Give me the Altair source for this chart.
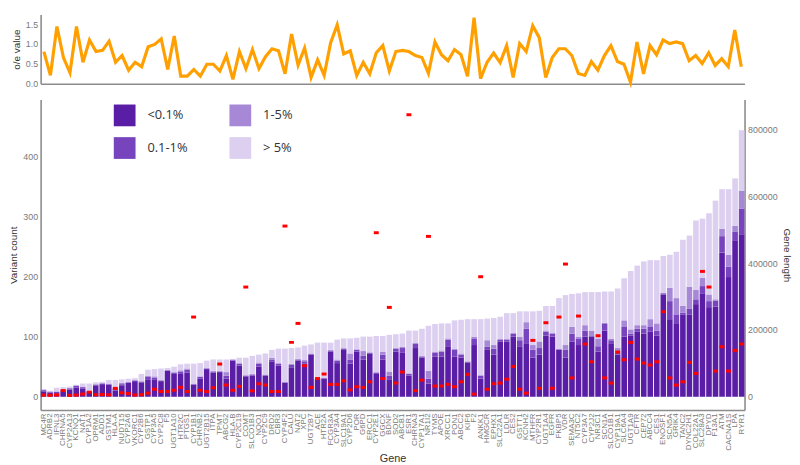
import altair as alt
import pandas as pd

genes = [
    "MC4R", "ADRB2", "IFNL3", "CHRNA5", "CYP2A13", "KCNQ1", "NAT1", "CYP1A2", "OPRM1", "ADD1",
    "GSTM1", "HLA-A", "NUDT15", "CYP2A6", "VKORC1", "CYP2B6", "GSTP1", "CYP3A5", "CYP2C8", "F5",
    "UGT1A10", "HTR2C", "PTGS1", "CYP1B1", "CHRNB2", "UGT2B15", "ITPA", "TPMT", "ABCG2", "HLA-B",
    "CYP2C19", "COMT", "SLCO1B3", "NQO1", "CYP2C9", "DRD2", "CBR3", "CYP4F2", "CALU", "NAT2",
    "XPC", "UGT2B7", "ACE", "HTR2A", "FCGR3A", "CYP3A4", "SLC19A1", "CYP2D6", "POR", "G6PD",
    "ERCC1", "CYP2E1", "GGCX", "BDNF", "SOD2", "ABCB1", "ESR1", "CHRNA3", "CYP17A1", "NR1I2",
    "TYMS", "APOE", "XRCC1", "PON1", "ABCC2", "KIF6", "F2", "ANKK1", "HMGCR", "EPHX1",
    "SLC22A1", "LDLR", "CES2", "GSTT1", "KCNH2", "MTHFR", "CYP2R1", "UGT1A4", "EGFR", "FKBP5",
    "VDR", "SEMA3C", "NT5C2", "CYP3A7", "CYP2J2", "NR3C1", "SCN1A", "SLCO1B1", "CYP19A1", "SLC6A4",
    "UGT1A9", "CFTR", "CEP72", "ABCC4", "CES1", "ENOSF1", "SCN5A", "GRIK4", "TANC2", "DYNC2H1",
    "COL22A1", "SLC28A3", "DPYD", "F13A1", "ATM", "CACNA1S", "LPA", "RYR1",
]

oe_value = [
    0.81, 0.21, 1.44, 0.66, 0.28, 1.44, 0.54, 1.10, 0.81, 0.84,
    1.07, 0.54, 0.71, 0.34, 0.54, 0.43, 0.93, 0.99, 1.13, 0.36,
    1.20, 0.19, 0.19, 0.36, 0.19, 0.49, 0.49, 0.32, 0.71, 0.11,
    0.81, 0.38, 0.86, 0.38, 0.68, 0.88, 0.83, 0.25, 1.25, 0.47,
    0.90, 0.16, 0.60, 0.21, 1.03, 1.48, 0.75, 0.83, 0.21, 0.54,
    0.25, 0.78, 0.96, 0.32, 0.81,
    0.84, 0.81, 0.71, 0.66, 0.26, 1.05, 0.73, 0.58, 0.86, 0.73,
    0.19, 1.66, 0.13, 0.54, 0.77, 0.53, 0.96, 0.16, 1.01, 0.81,
    1.46, 1.16, 0.16, 0.66, 0.88, 0.88, 0.71, 0.26, 0.21, 0.56,
    0.34, 0.71, 0.96, 0.56, 0.49, 0.04, 1.05, 0.25, 0.96, 0.73,
    1.10, 1.01, 1.05, 1.01, 0.58, 0.71, 0.51, 0.78, 0.46, 0.63,
    0.43, 1.35, 0.43,
]

total_count = [
    12, 10, 15, 16, 17, 20, 22, 22, 24, 25,
    28, 28, 29, 30, 31, 38, 45, 46, 47, 48,
    50, 54, 55, 55, 56, 60, 62, 62, 62, 62,
    65, 65, 68, 70, 72, 78, 80, 80, 81, 82,
    85, 87, 90, 90, 90, 95, 97, 97, 98, 100,
    100, 101, 101, 103, 104,
    105, 110, 110, 113, 118, 121, 122, 122, 127, 128,
    129, 129, 129, 130, 131, 133, 139, 139, 142, 142,
    142, 143, 151, 151, 164, 169, 171, 172, 174, 174,
    174, 175, 175, 180, 197, 209, 218, 225, 227, 227,
    234, 236, 241, 261, 268, 293, 296, 305, 326, 345,
    345, 363, 443,
]

count_lt01 = [
    9, 7, 6, 9, 12, 15, 14, 8, 19, 21,
    20, 10, 18, 23, 26, 24, 28, 29, 26, 43,
    38, 38, 40, 20, 30, 46, 40, 41, 30, 60,
    52, 34, 35, 50, 35, 58, 52, 23, 48, 60,
    55, 70, 28, 30, 75, 56, 78, 55, 75, 62,
    72, 38, 62, 28, 75,
    73, 35, 81, 65, 22, 67, 67, 84, 67, 65,
    57, 86, 30, 78, 70, 92, 92, 100, 84, 89,
    65, 70, 102, 100, 78, 65, 92, 86, 100, 100,
    75, 110, 89, 70, 100, 102, 108, 105, 108, 102,
    170, 129, 121, 137, 137, 154, 172, 149, 150, 240,
    199, 260, 270,
]

count_01_1 = [
    2, 1, 2, 2, 2, 3, 2, 1, 1, 1,
    1, 3, 3, 1, 1, 1, 5, 3, 1, 1,
    2, 4, 5, 1, 3, 1, 2, 1, 5, 1,
    3, 1, 2, 5, 1, 4, 3, 1, 5, 2,
    4, 1, 2, 1, 2, 4, 2, 7, 3, 6,
    1, 2, 8, 7, 5,
    8, 3, 7, 2, 8, 6, 8, 11, 11, 5,
    1, 10, 5, 5, 10, 3, 3, 5, 10, 24,
    13, 11, 6, 5, 1, 13, 13, 11, 10, 2,
    9, 11, 5, 3, 16, 3, 5, 8, 8, 8,
    2, 30, 16, 3, 9, 8, 12, 10, 10, 27,
    17, 14, 43,
]

count_1_5 = [
    1, 1, 1, 1, 1, 1, 1, 1, 1, 1,
    1, 2, 2, 1, 1, 1, 2, 2, 1, 1,
    1, 2, 2, 1, 1, 1, 1, 1, 6, 1,
    1, 1, 1, 2, 1, 3, 1, 1, 2, 1,
    2, 1, 1, 1, 1, 2, 1, 10, 1, 8,
    1, 1, 5, 7, 1,
    2, 1, 2, 1, 13, 2, 2, 2, 2, 2,
    1, 4, 1, 11, 6, 1, 1, 1, 6, 11,
    8, 11, 2, 1, 1, 8, 11, 3, 9, 8,
    13, 2, 2, 8, 11, 7, 6, 6, 13, 12,
    1, 22, 27, 11, 37, 16, 14, 11, 2, 12,
    20, 10, 29,
]

gene_length = [
    4000, 3500, 4500, 17500, 3000, 4000, 7000, 12600, 5000, 5500,
    4800, 24000, 10700, 8700, 4200, 5200, 9700, 21400, 14600, 14600,
    18500, 27200, 14600, 238000, 18500, 14600, 26000, 97000, 34000, 18500,
    30000, 328000, 16500, 38000, 34000, 14600, 14600, 511000, 162000, 219000,
    92000, 27000, 53500, 67000, 36000, 36000, 46700, 19500, 29000, 27000,
    43800, 491000, 53500, 267000, 40000,
    73000, 845000, 17500, 48600, 480000, 31000, 31000, 36000, 29000, 43800,
    66000, 6800, 359000, 21400, 38000, 40000, 51600, 89500, 21400, 9700,
    168000, 24300, 221000, 24300, 238000, 397000, 55500, 241000, 157000, 104000,
    182000, 55500, 40000, 133000, 110000, 162000, 112000, 100000, 94000, 104000,
    254000, 55500, 34000, 43800, 102000, 69000, 375000, 328000, 76000, 149000,
    76000, 138000, 157000,
]

categories = ["<0.1%", "0.1-1%", "1-5%", "> 5%"]
cat_colors = ["#5a1ea6", "#7744bd", "#a688d6", "#dccff0"]

rows = []
for i, g in enumerate(genes):
    parts = [count_lt01[i], count_01_1[i], count_1_5[i]]
    gt5 = max(total_count[i] - sum(parts), 0)
    for k, (cat, v) in enumerate(zip(categories, parts + [gt5])):
        rows.append({"gene": g, "category": cat, "count": v, "rank": k})
bars_df = pd.DataFrame(rows)
line_df = pd.DataFrame({"gene": genes, "oe": oe_value})
len_df = pd.DataFrame({"gene": genes, "length": gene_length})

W = 712
TOP_H = 70
SPACING = 11
BOT_H = 314
font = "Liberation Sans"

top = alt.Chart(line_df).mark_line(color="#ffa000", strokeWidth=3.2).encode(
    x=alt.X("gene:N", sort=genes, scale=alt.Scale(type="point", padding=0.5),
            axis=alt.Axis(labels=False, ticks=False, title=None, domain=True)),
    y=alt.Y("oe:Q", scale=alt.Scale(domain=[0, 1.74], nice=False),
            axis=alt.Axis(values=[0, 0.5, 1.0, 1.5], format=".1f", title="o/e value")),
).properties(width=W, height=TOP_H)

xenc = alt.X("gene:N", sort=genes,
             scale=alt.Scale(paddingInner=0.14, paddingOuter=0.02),
             axis=alt.Axis(title="Gene", labelAngle=270, labelOverlap=False,
                           labelFontSize=8, labelPadding=3, titlePadding=2,
                           titleFontSize=11))

bars = alt.Chart(bars_df).mark_bar().encode(
    x=xenc,
    y=alt.Y("sum(count):Q", stack="zero",
            scale=alt.Scale(domain=[-22, 494], nice=False, zero=False),
            axis=alt.Axis(values=[0, 100, 200, 300, 400], title="Variant count")),
    color=alt.Color("category:N",
                    scale=alt.Scale(domain=categories, range=cat_colors),
                    legend=alt.Legend(title=None, orient="none", legendX=74,
                                      legendY=TOP_H + SPACING + 10,
                                      columns=2, symbolType="square", symbolSize=484,
                                      symbolStrokeWidth=0, symbolOpacity=1,
                                      labelFont="Open Sans", labelFontSize=13,
                                      labelColor="#333333", labelOffset=12,
                                      columnPadding=42, rowPadding=11, padding=0)),
    order=alt.Order("rank:Q", sort="ascending"),
)

ticks = alt.Chart(len_df).mark_tick(color="#ff0000", thickness=3, size=5, opacity=1).encode(
    x=xenc,
    y=alt.Y("length:Q", scale=alt.Scale(domain=[-40900, 890500], nice=False, zero=False),
            axis=alt.Axis(orient="right", values=[0, 200000, 400000, 600000, 800000],
                          format="d", title="Gene length")),
)

bottom = alt.layer(bars, ticks).resolve_scale(y="independent").properties(width=W, height=BOT_H)

chart = alt.vconcat(top, bottom, spacing=SPACING).properties(
    padding={"left": 0, "top": 0, "right": 0, "bottom": 0}
).configure_view(stroke=None).configure_axis(
    domainColor="#8c8c8c", domainWidth=1.6, ticks=False, grid=False,
    labelColor="#7a7a7a", labelFont=font, labelFontSize=9, labelPadding=3,
    titleFont=font, titleFontSize=10, titleColor="#333333", titleFontWeight="normal",
    titlePadding=4,
)

chart.save("out.html", embed_options={"renderer": "svg", "actions": False})
